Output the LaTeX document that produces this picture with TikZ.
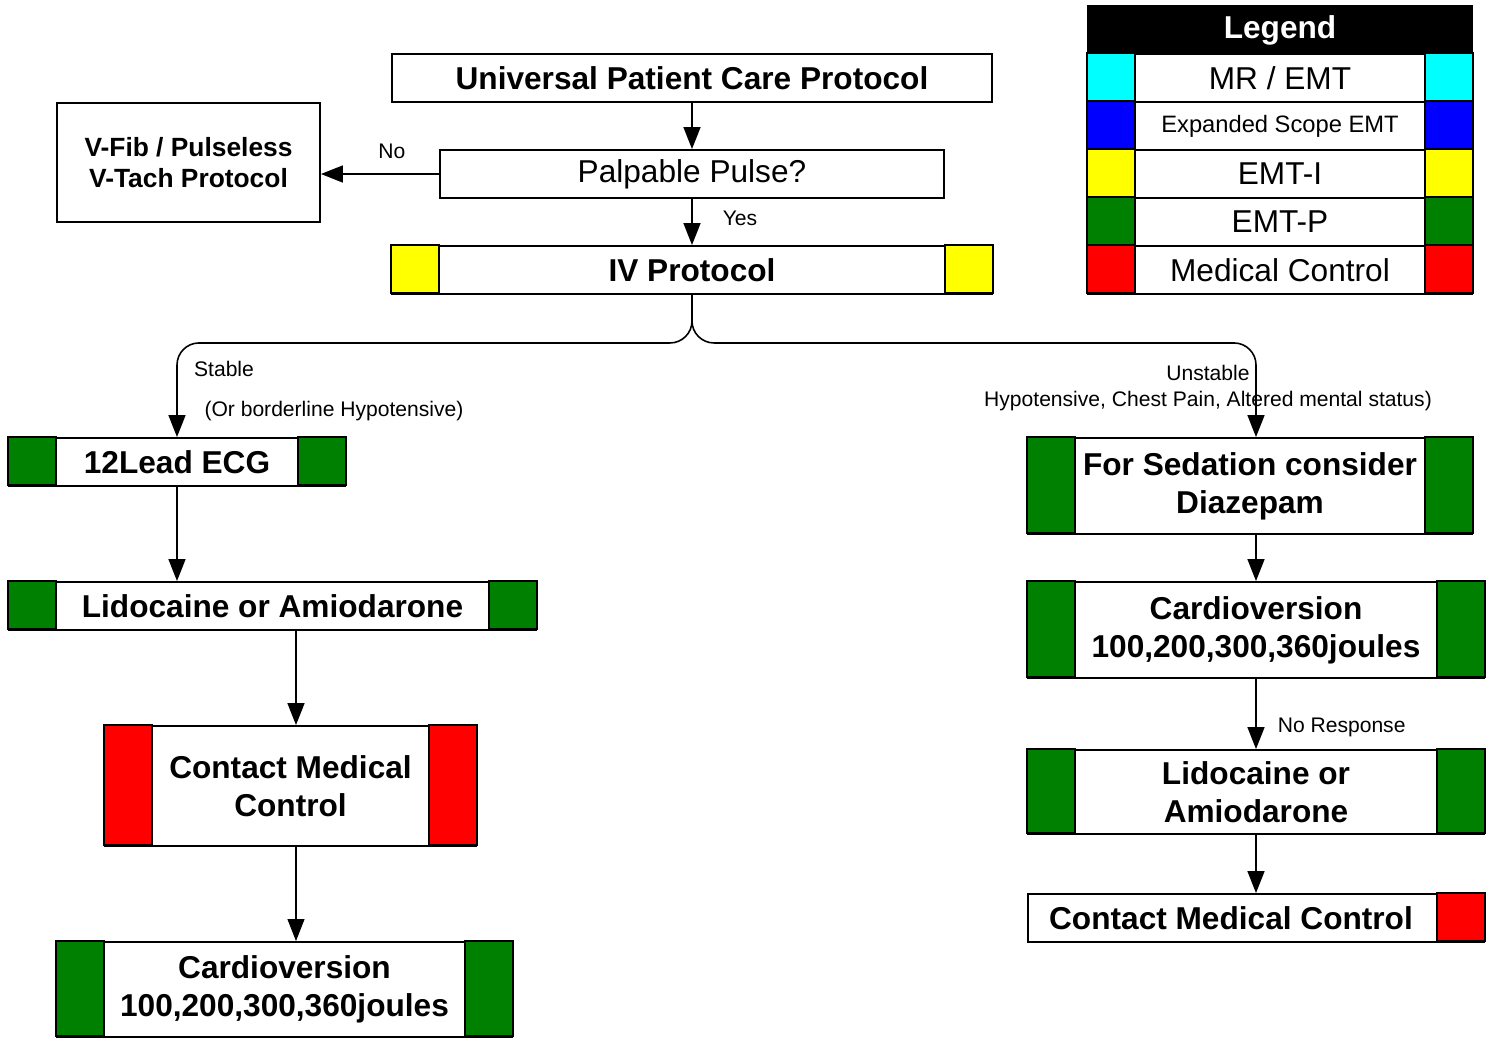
\documentclass[tikz,border=0pt]{standalone}
\usepackage{fontspec}
\setmainfont{Liberation Sans}
\usepackage{tikz}
\usetikzlibrary{arrows.meta,positioning,calc}
\definecolor{lvlcyan}{RGB}{0,255,255}
\definecolor{lvlblue}{RGB}{0,0,255}
\definecolor{lvlyellow}{RGB}{255,255,0}
\definecolor{lvlgreen}{RGB}{0,128,0}
\definecolor{lvlred}{RGB}{255,0,0}
\tikzset{
  every picture/.append style={line width=0.9pt},
}
\tikzset{
  box/.style={draw, fill=white, line width=1.1pt, align=center, inner sep=0pt, minimum height=0.96cm, font=\fontsize{18}{21.6}\selectfont\bfseries},
  arr/.style={-{Triangle[length=4.4mm, width=3.4mm]}, line width=0.9pt},
  lbl/.style={inner sep=0pt, align=center, font=\fontsize{12}{14.4}\selectfont},
  strip/.style={draw, line width=1.1pt, fill=#1}
}

\begin{document}
\begin{tikzpicture}[x=0.02cm, y=-0.02cm]
\useasboundingbox (0,0) rectangle (1489,1038);

% Columns used by the connectors
\coordinate (colL) at (296,0);
\coordinate (colR) at (1256,0);

% Top of the flow
\node[box, minimum width=12cm] (univ) at (692,78) {Universal Patient Care Protocol};
\node[box, minimum width=10.08cm, font=\fontsize{18}{21.6}\selectfont] (pulse) at (692,174) {Palpable Pulse?};
\node[box, minimum width=5.26cm, minimum height=2.38cm, font=\fontsize{15}{18}\selectfont\bfseries] (vfib) at (188.5,162.5) {V-Fib / Pulseless\\V-Tach Protocol};
\node[box, minimum width=12cm] (iv) at (692,270) {IV Protocol};
\draw[strip=lvlyellow] (iv.north west) rectangle +(48,48);
\draw[strip=lvlyellow] (iv.north east) rectangle +(-48,48);

% Stable branch (left)
\node[box, minimum width=6.72cm] (ecg) at (177,462) {12Lead ECG};
\draw[strip=lvlgreen] (ecg.north west) rectangle +(48,48);
\draw[strip=lvlgreen] (ecg.north east) rectangle +(-48,48);
\node[box, minimum width=10.54cm] (lidoL) at (272.5,606) {Lidocaine or Amiodarone};
\draw[strip=lvlgreen] (lidoL.north west) rectangle +(48,48);
\draw[strip=lvlgreen] (lidoL.north east) rectangle +(-48,48);
\node[box, minimum width=7.42cm, minimum height=2.4cm] (contL) at (290.5,786) {Contact Medical\\Control};
\draw[strip=lvlred] (contL.north west) rectangle +(48,120);
\draw[strip=lvlred] (contL.north east) rectangle +(-48,120);
\node[box, minimum width=9.1cm, minimum height=1.9cm] (cardL) at (284.5,989.5) {Cardioversion\\100,200,300,360joules};
\draw[strip=lvlgreen] (cardL.north west) rectangle +(48,95);
\draw[strip=lvlgreen] (cardL.north east) rectangle +(-48,95);

% Unstable branch (right)
\node[box, minimum width=8.88cm, minimum height=1.92cm] (sed) at (1250,486) {For Sedation consider\\Diazepam};
\draw[strip=lvlgreen] (sed.north west) rectangle +(48,96);
\draw[strip=lvlgreen] (sed.north east) rectangle +(-48,96);
\node[box, minimum width=9.12cm, minimum height=1.92cm] (cardR) at (1256,630) {Cardioversion\\100,200,300,360joules};
\draw[strip=lvlgreen] (cardR.north west) rectangle +(48,96);
\draw[strip=lvlgreen] (cardR.north east) rectangle +(-48,96);
\node[box, minimum width=9.12cm, minimum height=1.68cm] (lidoR) at (1256,792) {Lidocaine or\\Amiodarone};
\draw[strip=lvlgreen] (lidoR.north west) rectangle +(48,84);
\draw[strip=lvlgreen] (lidoR.north east) rectangle +(-48,84);
\node[box, minimum width=9.12cm] (contR) at (1256,918) {\hspace*{-1cm}Contact Medical Control};
\draw[strip=lvlred] (contR.north east) rectangle +(-48,48);

% Legend
\node[box, fill=black, text=white, minimum width=7.68cm] (legend) at (1280,30) {Legend};
\node[box, minimum width=7.68cm, font=\fontsize{18}{21.6}\selectfont] (lgmr) at (1280,78) {MR / EMT};
\draw[strip=lvlcyan] (lgmr.north west) rectangle +(48,48);
\draw[strip=lvlcyan] (lgmr.north east) rectangle +(-48,48);
\node[box, minimum width=7.68cm, font=\fontsize{13.5}{16}\selectfont] (lgexp) at (1280,126) {Expanded Scope EMT};
\draw[strip=lvlblue] (lgexp.north west) rectangle +(48,48);
\draw[strip=lvlblue] (lgexp.north east) rectangle +(-48,48);
\node[box, minimum width=7.68cm, font=\fontsize{18}{21.6}\selectfont] (lgi) at (1280,174) {EMT-I};
\draw[strip=lvlyellow] (lgi.north west) rectangle +(48,48);
\draw[strip=lvlyellow] (lgi.north east) rectangle +(-48,48);
\node[box, minimum width=7.68cm, font=\fontsize{18}{21.6}\selectfont] (lgp) at (1280,222) {EMT-P};
\draw[strip=lvlgreen] (lgp.north west) rectangle +(48,48);
\draw[strip=lvlgreen] (lgp.north east) rectangle +(-48,48);
\node[box, minimum width=7.68cm, font=\fontsize{18}{21.6}\selectfont] (lgmc) at (1280,270) {Medical Control};
\draw[strip=lvlred] (lgmc.north west) rectangle +(48,48);
\draw[strip=lvlred] (lgmc.north east) rectangle +(-48,48);

% Connectors
\draw[arr] (univ) -- (pulse);
\draw[arr] (pulse.south) -- node[lbl, right=0.6cm, pos=0.42] (yes) {Yes} (iv.north);
\draw[arr] (pulse.west) -- node[lbl, above=0.3cm, pos=0.4] (no) {No} (pulse.west -| vfib.east);
\draw[arr, rounded corners=0.44cm] (iv.south) -- ++(0,48) -| (ecg.north);
\draw[arr, rounded corners=0.44cm] (iv.south) -- ++(0,48) -| (sed.north -| colR);
\draw[arr] (ecg.south) -- (ecg.south |- lidoL.north);
\draw[arr] (lidoL.south -| colL) -- (contL.north -| colL);
\draw[arr, line width=0.6pt] (contL.south -| colL) -- (cardL.north -| colL);
\draw[arr] (sed.south -| colR) -- (cardR.north);
\draw[arr] (cardR.south) -- node[lbl, right=0.42cm, pos=0.69] (noresp) {No Response} (lidoR.north);
\draw[arr] (lidoR.south) -- (contR.north);

% Branch labels
\node[lbl] (stable) at (224,369) {Stable};
\node[lbl] (border) at (334,411) {(Or borderline Hypotensive)};
\node[lbl] (unstable) at (1208,388) {Unstable\\Hypotensive, Chest Pain, Altered mental status)};

\end{tikzpicture}
\end{document}
